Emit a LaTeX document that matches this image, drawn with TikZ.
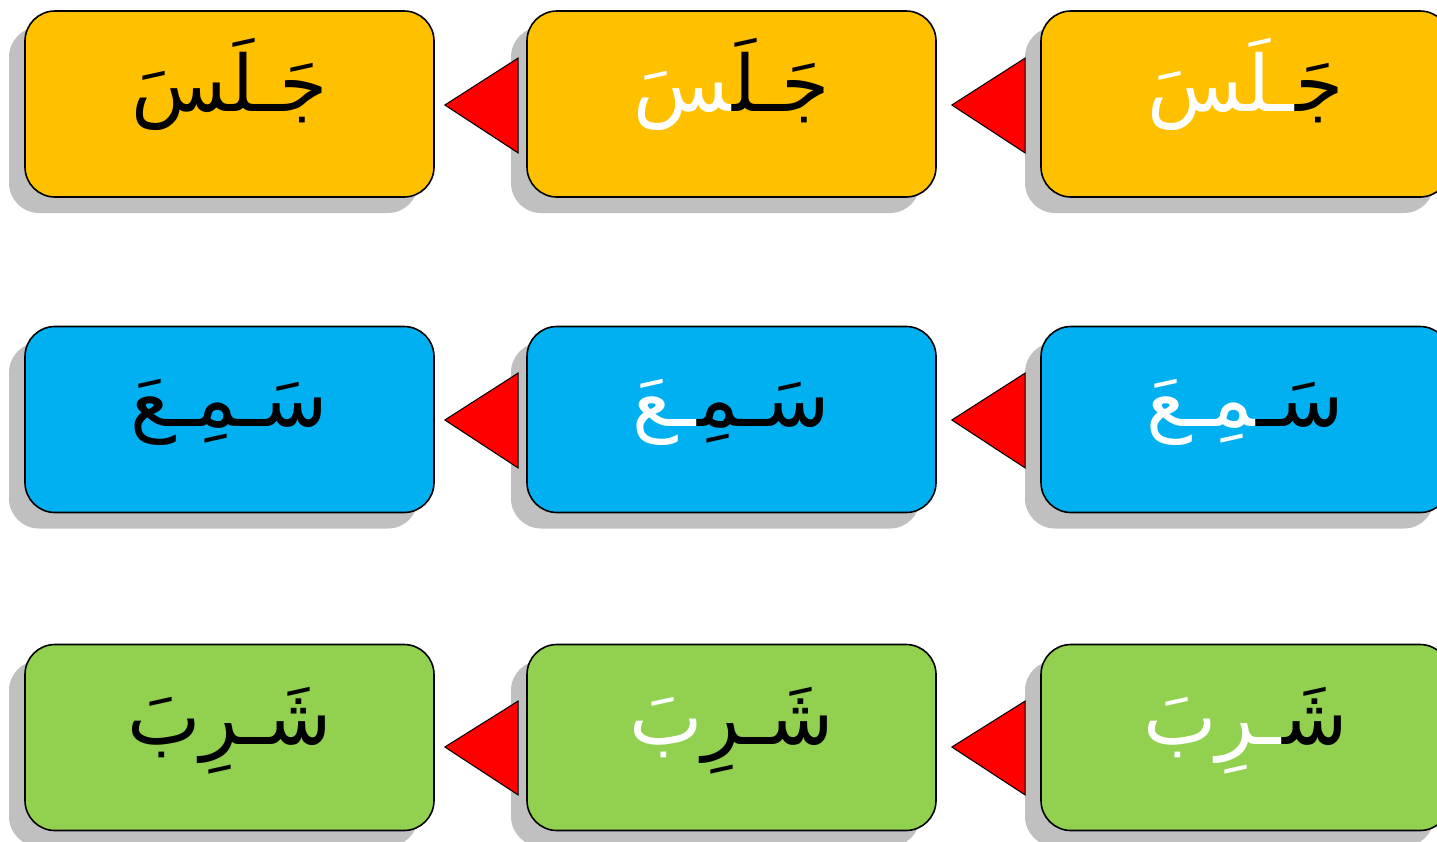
\documentclass[tikz,border=0pt]{standalone}
\usepackage{fontspec}
\usetikzlibrary{shadows}
\newfontfamily\arabicfont[Script=Arabic]{DejaVu Sans}
\definecolor{boxyellow}{HTML}{FFC000}
\definecolor{boxblue}{HTML}{00B0F0}
\definecolor{boxgreen}{HTML}{92D050}
\definecolor{shadowgray}{HTML}{C0C0C0}
\newcommand\zj{^^^^200d}
\tikzset{
  verbbox/.style={draw=black,line width=1.6pt,rounded corners=30pt,
    minimum width=409pt,minimum height=186pt,inner sep=0pt,
    drop shadow={shadow xshift=-16pt,shadow yshift=-16pt,fill=shadowgray,opacity=1}},
  tri/.style={fill=red,draw=black,line width=1pt,line join=miter},
  word/.style={font=\arabicfont\fontsize{78}{92}\selectfont,anchor=base,inner sep=0pt}
}

\begin{document}
\begin{tikzpicture}[x=1pt,y=-1pt]
\useasboundingbox (0,0) rectangle (1437,841);

% jalasa
\node[verbbox,fill=boxyellow] (j1) at (229.5,104) {};
\node[verbbox,fill=boxyellow] (j2) at (731.5,104) {};
\node[verbbox,fill=boxyellow] (j3) at (1245.5,104) {};
% sami'a
\node[verbbox,fill=boxblue] (s1) at (229.5,419.5) {};
\node[verbbox,fill=boxblue] (s2) at (731.5,419.5) {};
\node[verbbox,fill=boxblue] (s3) at (1245.5,419.5) {};
% shariba
\node[verbbox,fill=boxgreen] (sh1) at (229.5,737.5) {};
\node[verbbox,fill=boxgreen] (sh2) at (731.5,737.5) {};
\node[verbbox,fill=boxgreen] (sh3) at (1245.5,737.5) {};

\node[word] (tj1) at ([yshift=-7pt]j1.center) {جَـلَسَ};
\node[word] (tj2) at ([yshift=-7pt]j2.center) {{\color{white}\zj سَ}{\color{black}جَـلَ\zj}};
\node[word] (tj3) at ([yshift=-7pt]j3.center) {{\color{white}ـلَسَ}{\color{black}جَ\zj}};

\node[word] (ts1) at ([yshift=-7pt]s1.center) {سَـمِـعَ};
\node[word] (ts2) at ([yshift=-7pt]s2.center) {{\color{white}ـعَ}{\color{black}سَـمِ\zj}};
\node[word] (ts3) at ([yshift=-7pt]s3.center) {{\color{white}\zj مِـعَ}{\color{black}سَـ}};

\node[word] (tsh1) at ([yshift=-7pt]sh1.center) {شَـرِبَ};
\node[word] (tsh2) at ([yshift=-7pt]sh2.center) {{\color{white}بَ}{\color{black}شَـرِ}};
\node[word] (tsh3) at ([yshift=-7pt]sh3.center) {{\color{white}ـرِبَ}{\color{black}شَ\zj}};

% triangles
\draw[tri] ([xshift=10pt,yshift=-1pt]j1.east) -- ([xshift=-8pt,yshift=46pt]j2.west) -- ([xshift=-8pt,yshift=-49pt]j2.west) -- cycle;
\draw[tri] ([xshift=15pt,yshift=-1pt]j2.east) -- ([xshift=-15pt,yshift=46pt]j3.west) -- ([xshift=-15pt,yshift=-49pt]j3.west) -- cycle;
\draw[tri] ([xshift=10pt,yshift=-0.5pt]s1.east) -- ([xshift=-8pt,yshift=46.5pt]s2.west) -- ([xshift=-8pt,yshift=-48.5pt]s2.west) -- cycle;
\draw[tri] ([xshift=15pt,yshift=-0.5pt]s2.east) -- ([xshift=-15pt,yshift=46.5pt]s3.west) -- ([xshift=-15pt,yshift=-48.5pt]s3.west) -- cycle;
\draw[tri] ([xshift=10pt,yshift=-9.5pt]sh1.east) -- ([xshift=-8pt,yshift=36.5pt]sh2.west) -- ([xshift=-8pt,yshift=-57.5pt]sh2.west) -- cycle;
\draw[tri] ([xshift=15pt,yshift=-9.5pt]sh2.east) -- ([xshift=-15pt,yshift=36.5pt]sh3.west) -- ([xshift=-15pt,yshift=-57.5pt]sh3.west) -- cycle;
\end{tikzpicture}
\end{document}
